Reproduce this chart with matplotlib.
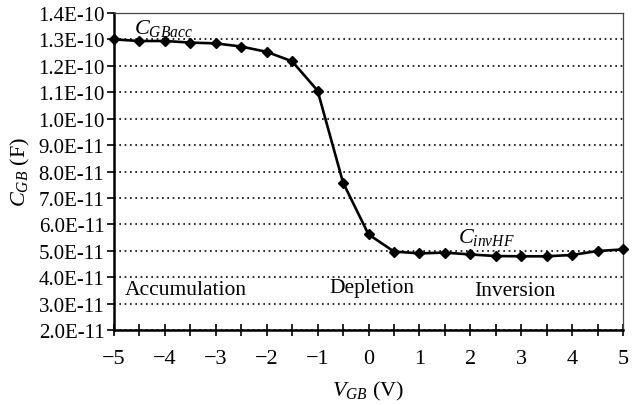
import numpy as np
import matplotlib.pyplot as plt
from matplotlib.ticker import FuncFormatter, MultipleLocator

plt.rcParams['font.family'] = 'Liberation Serif'
plt.rcParams['mathtext.fontset'] = 'custom'
plt.rcParams['mathtext.rm'] = 'Liberation Serif'
plt.rcParams['mathtext.it'] = 'Liberation Serif:italic'
plt.rcParams['axes.unicode_minus'] = True

# gate-body voltage (V) and measured capacitance (F)
vgb = [-5, -4.5, -4, -3.5, -3, -2.5, -2, -1.5, -1, -0.5, 0,
       0.5, 1, 1.5, 2, 2.5, 3, 3.5, 4, 4.5, 5]
cgb = [1.300e-10, 1.294e-10, 1.294e-10, 1.288e-10, 1.285e-10, 1.273e-10,
       1.253e-10, 1.217e-10, 1.106e-10, 7.58e-11, 5.62e-11,
       4.97e-11, 4.90e-11, 4.93e-11, 4.86e-11, 4.80e-11, 4.79e-11,
       4.79e-11, 4.84e-11, 4.99e-11, 5.05e-11]

fig = plt.figure(figsize=(6.41, 4.06), dpi=100)
ax = fig.add_axes([114/641, 1-331/406, (623-114)/641, (331-14)/406])

ax.plot(vgb, cgb, color='black', lw=1.9, marker='D', ms=5.5, zorder=3, clip_on=False)

ax.set_xlim(-5, 5)
ax.set_ylim(2.0e-11, 1.4e-10)
ax.yaxis.set_major_locator(MultipleLocator(1e-11))
ax.xaxis.set_major_locator(MultipleLocator(1))
ax.xaxis.set_minor_locator(MultipleLocator(0.5))
ax.yaxis.set_major_formatter(FuncFormatter(lambda v, p: f"{v:.1E}"))
ax.xaxis.set_major_formatter(FuncFormatter(lambda v, p: f"{v:.0f}".replace('-', '\u2212')))

ax.grid(axis='y', color='black', linestyle=(0, (1, 2.2)), lw=1.2)
ax.set_axisbelow(True)

for s in ['left', 'bottom']:
    ax.spines[s].set_linewidth(1.8)
for s in ['top', 'right']:
    ax.spines[s].set_linewidth(0.9)
    ax.spines[s].set_color('#444444')

ax.tick_params(axis='x', which='both', direction='inout', length=9, width=1.2,
               labelsize=16, pad=9)
ax.tick_params(axis='y', direction='out', length=5, width=1.2, labelsize=15, pad=2)

ax.set_xlabel(r'$V_{GB}$ (V)', fontsize=16, labelpad=8)
ax.set_ylabel(r'$C_{GB}$ (F)', fontsize=16, labelpad=4)

ax.text(-4.61, 1.347e-10, r'$C_{GBacc}$', fontsize=16, va='center')
ax.text(1.76, 5.54e-11, r'$C_{invHF}$', fontsize=16, va='center')
ax.text(-4.78, 3.55e-11, 'Accumulation', fontsize=15.5, va='center')
ax.text(-0.76, 3.62e-11, 'Depletion', fontsize=15.5, va='center')
ax.text(2.07, 3.49e-11, 'Inversion', fontsize=15.5, va='center')

fig.savefig('out.png', dpi=100)
